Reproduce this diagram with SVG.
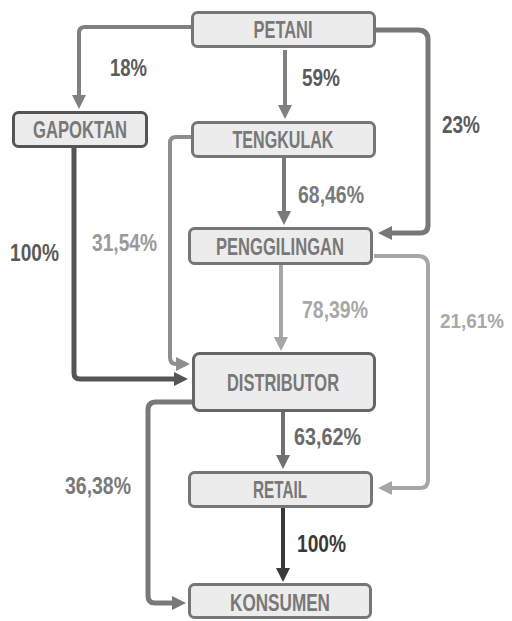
<svg xmlns="http://www.w3.org/2000/svg" width="512" height="621" viewBox="0 0 512 621">
<style>
.n rect{fill:#ececec;stroke:#767676;stroke-width:3}
.n text{font-family:"Liberation Sans",Arial,sans-serif;font-weight:bold;font-size:23px;fill:#787878;text-anchor:middle}
.c path{fill:none;stroke-linejoin:round}
.lbl text{font-family:"Liberation Sans",Arial,sans-serif;font-weight:bold;font-size:24px}
</style>
<defs>
<marker id="m80" markerUnits="userSpaceOnUse" markerWidth="15" markerHeight="15" refX="0" refY="7" orient="auto"><path d="M0,0 L14,7 L0,14 z" fill="#808080"/></marker>
<marker id="m77" markerUnits="userSpaceOnUse" markerWidth="15" markerHeight="15" refX="0" refY="7" orient="auto"><path d="M0,0 L14,7 L0,14 z" fill="#787878"/></marker>
<marker id="m8c" markerUnits="userSpaceOnUse" markerWidth="15" markerHeight="15" refX="0" refY="7" orient="auto"><path d="M0,0 L14,7 L0,14 z" fill="#8e8e8e"/></marker>
<marker id="m55" markerUnits="userSpaceOnUse" markerWidth="15" markerHeight="15" refX="0" refY="7" orient="auto"><path d="M0,0 L14,7 L0,14 z" fill="#555555"/></marker>
<marker id="ma6" markerUnits="userSpaceOnUse" markerWidth="15" markerHeight="15" refX="0" refY="7" orient="auto"><path d="M0,0 L14,7 L0,14 z" fill="#a6a6a6"/></marker>
<marker id="m70" markerUnits="userSpaceOnUse" markerWidth="15" markerHeight="15" refX="0" refY="7" orient="auto"><path d="M0,0 L14,7 L0,14 z" fill="#707070"/></marker>
<marker id="m3a" markerUnits="userSpaceOnUse" markerWidth="15" markerHeight="15" refX="0" refY="7" orient="auto"><path d="M0,0 L14,7 L0,14 z" fill="#3a3a3a"/></marker>
</defs>
<g id="connectors" class="c">
<path d="M191,27 H85 Q79,27 79,33 V95" stroke="#808080" stroke-width="4" marker-end="url(#m80)"/>
<path d="M285,50 V105" stroke="#808080" stroke-width="4" marker-end="url(#m80)"/>
<path d="M376,30 H418 Q428,30 428,40 V225 Q428,233 420,233 H392" stroke="#787878" stroke-width="5" marker-end="url(#m77)"/>
<path d="M284,158 V211" stroke="#787878" stroke-width="4" marker-end="url(#m77)"/>
<path d="M191,137 H176 Q170,137 170,143 V357 Q170,364 176,364" stroke="#8e8e8e" stroke-width="4" marker-end="url(#m8c)"/>
<path d="M74,148 V373 Q74,379 80,379 H174" stroke="#555555" stroke-width="5" marker-end="url(#m55)"/>
<path d="M281,265 V337" stroke="#a6a6a6" stroke-width="4" marker-end="url(#ma6)"/>
<path d="M374,256 H418 Q428,256 428,266 V480 Q428,488 420,488 H392" stroke="#a6a6a6" stroke-width="4" marker-end="url(#ma6)"/>
<path d="M283,412 V455" stroke="#707070" stroke-width="4" marker-end="url(#m70)"/>
<path d="M192,402 H156 Q148,402 148,410 V596 Q148,603 155,603 H172" stroke="#787878" stroke-width="5" marker-end="url(#m77)"/>
<path d="M283,508 V568" stroke="#3a3a3a" stroke-width="4" marker-end="url(#m3a)"/>
</g>
<g id="petani" class="n"><rect x="192.5" y="12.5" width="182" height="34" rx="5"/><text x="283" y="38" textLength="59" lengthAdjust="spacingAndGlyphs">PETANI</text></g>
<g id="gapoktan" class="n"><rect x="13.5" y="112.5" width="133" height="34" rx="5" style="stroke:#555"/><text x="80" y="138" textLength="94" lengthAdjust="spacingAndGlyphs">GAPOKTAN</text></g>
<g id="tengkulak" class="n"><rect x="192.5" y="122.5" width="182" height="34" rx="5"/><text x="283" y="148" textLength="101" lengthAdjust="spacingAndGlyphs">TENGKULAK</text></g>
<g id="penggilingan" class="n"><rect x="189.5" y="228.5" width="182" height="35" rx="5"/><text x="280" y="255" textLength="128" lengthAdjust="spacingAndGlyphs">PENGGILINGAN</text></g>
<g id="distributor" class="n"><rect x="193.5" y="353.5" width="181" height="57" rx="6" style="stroke:#666"/><text x="283" y="391" textLength="112" lengthAdjust="spacingAndGlyphs">DISTRIBUTOR</text></g>
<g id="retail" class="n"><rect x="189.5" y="472.5" width="182" height="34" rx="5"/><text x="280" y="498" textLength="54" lengthAdjust="spacingAndGlyphs">RETAIL</text></g>
<g id="konsumen" class="n"><rect x="189.5" y="584.5" width="181" height="33" rx="5"/><text x="280" y="611" textLength="100" lengthAdjust="spacingAndGlyphs">KONSUMEN</text></g>
<g id="labels" class="lbl">
<text x="110" y="76" textLength="37" lengthAdjust="spacingAndGlyphs" fill="#5a5a5a">18%</text>
<text x="302" y="86" textLength="38" lengthAdjust="spacingAndGlyphs" fill="#5a5a5a">59%</text>
<text x="442" y="133" textLength="38" lengthAdjust="spacingAndGlyphs" fill="#5a5a5a">23%</text>
<text x="298" y="203" textLength="66" lengthAdjust="spacingAndGlyphs" fill="#7a7a7a">68,46%</text>
<text x="10" y="261" textLength="49" lengthAdjust="spacingAndGlyphs" fill="#5a5a5a">100%</text>
<text x="92" y="251" textLength="65" lengthAdjust="spacingAndGlyphs" fill="#9a9a9a">31,54%</text>
<text x="302" y="318" textLength="66" lengthAdjust="spacingAndGlyphs" fill="#a8a8a8">78,39%</text>
<text x="440" y="328" textLength="64" lengthAdjust="spacingAndGlyphs" fill="#a8a8a8" style="font-size:21px">21,61%</text>
<text x="294" y="445" textLength="67" lengthAdjust="spacingAndGlyphs" fill="#6a6a6a">63,62%</text>
<text x="65" y="494" textLength="66" lengthAdjust="spacingAndGlyphs" fill="#7a7a7a">36,38%</text>
<text x="297" y="552" textLength="49" lengthAdjust="spacingAndGlyphs" fill="#3a3a3a">100%</text>
</g>
</svg>
